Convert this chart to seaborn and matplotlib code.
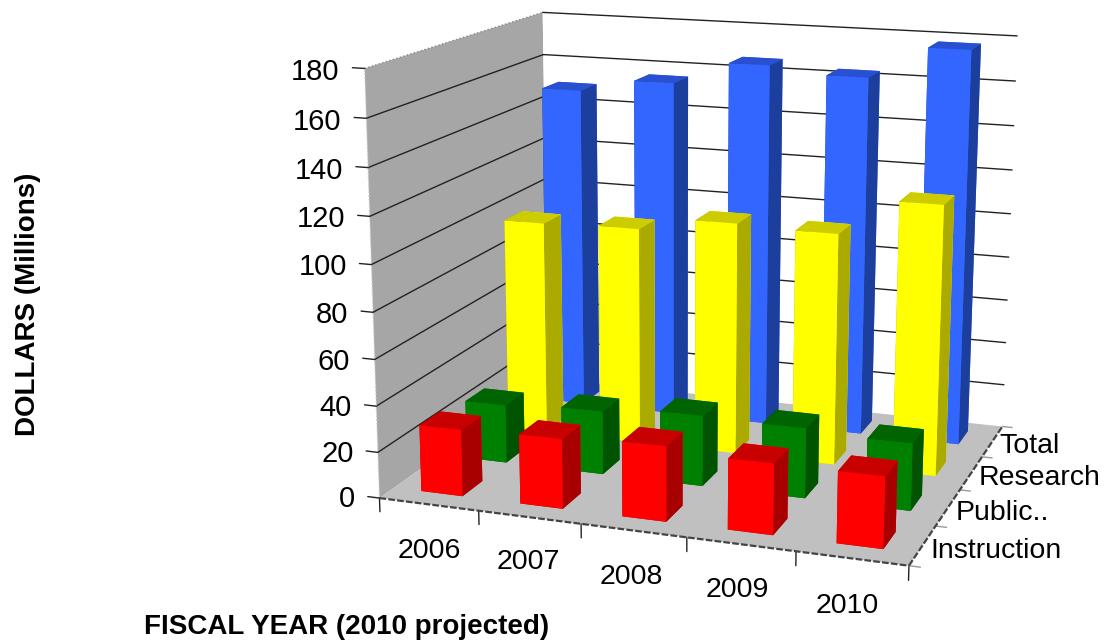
import seaborn as sns
import matplotlib
matplotlib.use("Agg")
import matplotlib.pyplot as plt
from mpl_toolkits.mplot3d import proj3d

years = ["2006", "2007", "2008", "2009", "2010"]
categories = ["Instruction", "Public..", "Research", "Total"]
instruction = [29, 30, 32, 30, 30]
public = [26, 28, 31, 30.5, 29]
research = [97, 98, 104, 103, 119]
total = [149.5, 155.5, 166, 163, 177.5]
z_ticks = [0, 20, 40, 60, 80, 100, 120, 140, 160, 180]
front = ["#ff0000", "#008000", "#ffff00", "#3366ff"]
top = ["#c80000", "#006400", "#cccc00", "#2850d0"]
side = ["#a80000", "#005400", "#aaaa00", "#1c3f9e"]
# where the year labels sit, in picture pixels
year_pos = [(429, 551), (528, 562), (631, 577), (737, 590), (847, 606)]

sns.set_theme(style="white")
plt.rcParams["font.family"] = ["Liberation Sans", "DejaVu Sans"]

fig = plt.figure(figsize=(11.05, 6.4), dpi=100)
# camera and box were fitted to the corners of the original chart
ax = fig.add_axes([0.28071, -0.02733, 0.69934, 1.20745], projection="3d")
ax.set_proj_type("persp", focal_length=0.525)
ax.view_init(elev=13.9645, azim=-71.206, roll=-0.2024)
ax.set_box_aspect((2.8631, 2.2823, 2.2849))
ax.set_xlim(0, 5, view_margin=0)
ax.set_ylim(0, 4, view_margin=0)
ax.set_zlim(0, 180, view_margin=0)
ax.computed_zorder = False

ax.xaxis.set_pane_color("#a6a6a6")
ax.yaxis.set_pane_color("white")
ax.zaxis.set_pane_color("#c0c0c0")
ax.set_xticks([])
ax.set_yticks([])
ax.set_zticks([])
ax.grid(False)
for axis in (ax.xaxis, ax.yaxis, ax.zaxis):
    axis.line.set_color("none")
    axis.pane.set_edgecolor("none")


def label_at(x, y, z, s, **kw):
    # plain 2D text placed at the projected 3D point
    px, py, _ = proj3d.proj_transform(x, y, z, ax.get_proj())
    ax.text2D(px, py, s, transform=ax.transData, va="center", fontsize=kw.pop("fontsize"),
              color="black", **kw)


# back row first, left to right, so nearer bars paint over the others
series = [instruction, public, research, total]
order = 10
for row in range(3, -1, -1):
    for col in range(5):
        faces = [top[row], top[row], front[row], front[row], side[row], side[row]]
        ax.bar3d(col + 0.28, row + 0.3, 0, 0.42, 0.44, series[row][col], color=faces,
                 shade=False, edgecolor="none", linewidth=0, zorder=order)
        order += 1

for z in z_ticks[1:]:
    ax.plot([0, 5], [4, 4], [z, z], color="#222222", lw=1, zorder=2)
    if z < 180:
        ax.plot([0, 0], [0, 4], [z, z], color="#222222", lw=1, zorder=2)
ax.plot([0, 0], [0, 4], [180, 180], color="#888888", lw=1, ls=":", zorder=2)
ax.plot([0, 0], [0, 0], [0, 180], color="#cccccc", lw=1, ls=":", zorder=2)

for z in z_ticks:
    ax.plot([-0.12, 0], [0, 0], [z, z], color="#222222", lw=1, zorder=2)
    label_at(-0.25, 0, z - 2, str(z), ha="right", fontsize=21)
for i in range(6):
    ax.plot([i, i], [0, 0], [0, -6], color="#222222", lw=1, zorder=2)
for i in range(5):
    ax.plot([5, 5.1], [i, i], [0, 0], color="#999999", lw=1, zorder=2)
for year, (px, py) in zip(years, year_pos):
    fig.text(px / 1105, 1 - py / 640, year, ha="center", va="center", fontsize=20.5, color="black")
for i, cat in enumerate(categories):
    label_at(5.07, i + 0.5, -1.8, cat, ha="left", fontsize=20.5)

ax.plot([0, 5], [0, 0], [0, 0], color="#444444", lw=1.6, ls=(0, (3, 1)), zorder=3)
ax.plot([5, 5], [0, 4], [0, 0], color="#444444", lw=1.6, ls=(0, (3, 1)), zorder=3)

fig.text(28 / 1105, 1 - 304 / 640, "DOLLARS (Millions)", rotation=90, ha="center", va="center",
         fontsize=20, fontweight="bold", color="black")
fig.text(347 / 1105, 1 - 627.5 / 640, "FISCAL YEAR (2010 projected)", ha="center", va="center",
         fontsize=20, fontweight="bold", color="black")

fig.savefig("out.png", dpi=100)
